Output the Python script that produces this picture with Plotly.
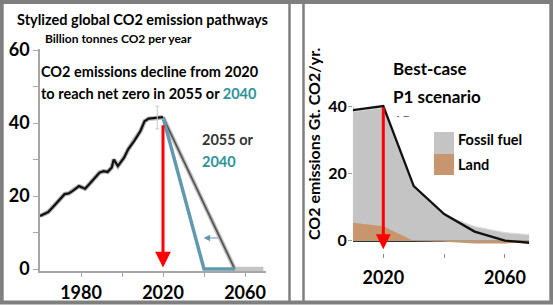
import plotly.graph_objects as go

# ---------------- data ----------------
hist_years = [1960, 1964, 1966, 1969, 1972, 1974, 1976, 1979, 1980, 1982, 1984, 1986, 1989, 1991,
              1993, 1995, 1996, 1998, 1999, 2001, 2003, 2006, 2009, 2011, 2013, 2016, 2018, 2020]
hist_co2 = [14.5, 15.6, 16.8, 18.6, 20.5, 20.7, 21.4, 22.7, 22.5, 22.0, 23.2, 24.6, 26.4, 26.8,
            26.6, 27.8, 30.0, 28.2, 29.0, 30.5, 32.8, 35.1, 37.8, 40.5, 41.2, 41.3, 41.4, 41.6]

path2055_years = [2020, 2055, 2069]
path2055_vals = [41.6, 0, 0]
path2040_years = [2020, 2040, 2055]
path2040_vals = [41.6, 0, 0]

arrow_year = 2020
left_arrow = [39.8, 0.4]          # from, to
shift_arrow_years = [2047.5, 2039.8]
shift_arrow_val = 8.5
peak_bar = [2017.2, 41.5, 3.1]    # year, mid, half-range

p1_years = [2010, 2020, 2030, 2040, 2050, 2060, 2068]
fossil = [38.3, 39.5, 15.8, 7.6, 4.2, 2.4, 1.8]
land = [5.3, 4.3, -0.1, -0.3, -0.8, -0.8, -0.5]
net = [38.8, 40.0, 16.2, 7.9, 2.7, 0.0, -0.6]
right_arrow = [40.0, -2.5]

left_yticks = [0, 10, 20, 30, 40, 50, 60]
left_yticktext = ["0", "", "20", "", "40", "", "60"]
left_xticks = [1980, 2000, 2020, 2040, 2060]
left_xticktext = ["1980", "", "2020", "", "2060"]
right_yticks = [0, 20, 40]
right_xticks = [2020, 2040, 2060]
right_xticktext = ["2020", "", "2060"]

# ---------------- style ----------------
W, H = 553, 305
FONT = "Lato"
TEAL_LINE = "#6399AE"
TEAL_TXT = "#2E9299"
FRAME = "#7F7F7F"
AX = "#A6A6A6"


def px(x):
    return x / W


def py(y):
    return 1 - y / H


fig = go.Figure()

# ---- left panel ----
fig.add_trace(go.Scatter(x=path2055_years, y=path2055_vals, mode="lines",
                         line=dict(color="#C4C4C4", width=4.5), xaxis="x", yaxis="y", hoverinfo="skip"))
fig.add_trace(go.Scatter(x=path2055_years[:2], y=path2055_vals[:2], mode="lines",
                         line=dict(color="#555555", width=1.8), xaxis="x", yaxis="y", hoverinfo="skip"))
fig.add_trace(go.Scatter(x=path2040_years, y=path2040_vals, mode="lines",
                         line=dict(color=TEAL_LINE, width=3.5), xaxis="x", yaxis="y", hoverinfo="skip"))
fig.add_trace(go.Scatter(x=hist_years, y=hist_co2, mode="lines",
                         line=dict(color="#B5B5B5", width=4.5),
                         xaxis="x", yaxis="y", hoverinfo="skip"))
fig.add_trace(go.Scatter(x=hist_years, y=hist_co2, mode="lines",
                         line=dict(color="#111111", width=2.3),
                         xaxis="x", yaxis="y", hoverinfo="skip"))
fig.add_trace(go.Scatter(x=[peak_bar[0]], y=[peak_bar[1]], mode="markers",
                         marker=dict(size=1, color="rgba(0,0,0,0)"),
                         error_y=dict(type="constant", value=peak_bar[2], color="#C8C8C8",
                                      thickness=1, width=2),
                         xaxis="x", yaxis="y", hoverinfo="skip"))

# ---- right panel ----
fig.add_trace(go.Scatter(x=p1_years, y=fossil, mode="lines", fill="tozeroy",
                         fillcolor="#C4C4C4", line=dict(color="#DADADA", width=1),
                         xaxis="x2", yaxis="y2", hoverinfo="skip"))
fig.add_trace(go.Scatter(x=p1_years, y=land, mode="lines", fill="tozeroy",
                         fillcolor="#C8966E", line=dict(color="rgba(0,0,0,0)", width=0),
                         xaxis="x2", yaxis="y2", hoverinfo="skip"))
fig.add_trace(go.Scatter(x=p1_years, y=net, mode="lines",
                         line=dict(color="#111111", width=2.3),
                         xaxis="x2", yaxis="y2", hoverinfo="skip"))

# ---------------- axes ----------------
tickfont_l = dict(family=FONT, size=18, color="black", weight="bold")
fig.update_layout(
    xaxis=dict(domain=[px(40), px(265.5)], range=[1960, 2070], anchor="y",
               showline=True, linecolor=AX, linewidth=1.5, showgrid=False, zeroline=False,
               ticks="outside", ticklen=4, tickcolor=AX, tickvals=left_xticks,
               ticktext=left_xticktext, tickfont=tickfont_l, automargin=False),
    yaxis=dict(domain=[py(271.2), py(48.9)], range=[-0.6, 60.3], anchor="x",
               showline=True, linecolor=AX, linewidth=1.5, showgrid=False, zeroline=False,
               ticks="outside", ticklen=5, tickcolor=AX, tickvals=left_yticks,
               ticktext=left_yticktext, tickfont=tickfont_l, ticklabelstandoff=0, automargin=False),
    xaxis2=dict(domain=[px(352.9), px(529.3)], range=[2010, 2068], anchor="y2",
                showline=False, showgrid=False, zeroline=False,
                ticks="outside", ticklen=4, tickcolor="#888888", tickvals=right_xticks,
                ticktext=right_xticktext, tickfont=tickfont_l, ticklabelstandoff=4, automargin=False),
    yaxis2=dict(domain=[py(253), py(99.3)], range=[-3.65, 42], anchor="x2",
                showline=False, showgrid=False, zeroline=True, zerolinecolor="#333333",
                zerolinewidth=2, ticks="outside", ticklen=4, tickcolor="#999999",
                tickvals=right_yticks, tickfont=dict(family=FONT, size=16, color="black", weight="bold"),
                ticklabelstandoff=-2, automargin=False),
)

# ---------------- shapes (frames, legend squares, axis line) ----------------
shapes = [
    dict(type="rect", xref="paper", yref="paper", x0=px(1.7), x1=px(551.3), y0=py(302.5), y1=py(2),
         line=dict(color=FRAME, width=4), fillcolor="rgba(0,0,0,0)", layer="above"),
    dict(type="line", xref="paper", yref="paper", x0=px(289.5), x1=px(289.5), y0=py(302), y1=py(3),
         line=dict(color=FRAME, width=2.5), layer="above"),
    dict(type="line", xref="paper", yref="paper", x0=px(303.5), x1=px(303.5), y0=py(302), y1=py(3),
         line=dict(color=FRAME, width=2.5), layer="above"),
    dict(type="line", xref="x2", yref="y2", x0=p1_years[0], x1=p1_years[0], y0=0, y1=right_yticks[-1],
         line=dict(color="#BBBBBB", width=1.2), layer="below"),
    dict(type="rect", xref="paper", yref="paper", x0=px(434), x1=px(454), y0=py(154), y1=py(132),
         line=dict(width=0), fillcolor="#C4C4C4"),
    dict(type="rect", xref="paper", yref="paper", x0=px(434), x1=px(454), y0=py(175), y1=py(154),
         line=dict(width=0), fillcolor="#C8966E"),
]
fig.update_layout(shapes=shapes)

# ---------------- annotations ----------------
def txt(text, x, y, size, color="black", xanchor="left", **kw):
    return dict(text=text, x=px(x - 3), y=py(y), xref="paper", yref="paper", xanchor=xanchor,
                yanchor="middle", showarrow=False,
                font=dict(family=FONT, size=size, color=color, weight="bold"), **kw)


ann = [
    txt("Stylized global CO2 emission pathways", 18, 20, 14.5),
    txt("Billion tonnes CO2 per year", 46, 39, 12),
    txt("CO2 emissions decline from 2020", 42, 71, 14.5),
    txt("to reach net zero in 2055 or <span style='color:%s'>2040</span>" % TEAL_TXT, 42, 94, 14.5),
    txt("2055 or", 203, 139, 14.5, color="#333333"),
    txt("2040", 203, 162, 14.5, color=TEAL_TXT),
    txt("Best-case", 394, 68, 17),
    txt("P1 scenario", 394, 96, 17),
    txt("·  ―", 398, 116, 8, color="#444444"),
    txt("Fossil fuel", 459, 139, 14.5),
    txt("Land", 459, 164, 14.5),
    dict(text="CO2 emissions Gt. CO2/yr.", x=px(313), y=py(144), xref="paper", yref="paper",
         xanchor="center", yanchor="middle", showarrow=False, textangle=-90,
         font=dict(family=FONT, size=16, color="black", weight="bold")),
    # red arrows
    dict(text="", x=arrow_year, y=left_arrow[1], ax=arrow_year, ay=left_arrow[0],
         xref="x", yref="y", axref="x", ayref="y", showarrow=True, arrowhead=2,
         arrowsize=1.05, arrowwidth=3, arrowcolor="#FF0000", standoff=0),
    dict(text="", x=arrow_year, y=right_arrow[1], ax=arrow_year, ay=right_arrow[0],
         xref="x2", yref="y2", axref="x2", ayref="y2", showarrow=True, arrowhead=2,
         arrowsize=1.0, arrowwidth=3, arrowcolor="#FF0000", standoff=0),
    # shift arrow
    dict(text="", x=shift_arrow_years[1], y=shift_arrow_val, ax=shift_arrow_years[0], ay=shift_arrow_val,
         xref="x", yref="y", axref="x", ayref="y", showarrow=True, arrowhead=2,
         arrowsize=1.3, arrowwidth=1, arrowcolor=TEAL_LINE, standoff=0),
]
fig.update_layout(annotations=ann)

fig.update_layout(width=W, height=H, autosize=False, margin=dict(l=0, r=0, t=0, b=0, pad=0),
                  paper_bgcolor="white", plot_bgcolor="white", showlegend=False,
                  font=dict(family=FONT))

fig.write_html("out.html",
               config={"displayModeBar": False},
               post_script="document.body.style.margin='0px';document.body.style.overflow='hidden';"
                           "document.documentElement.style.overflow='hidden';")
